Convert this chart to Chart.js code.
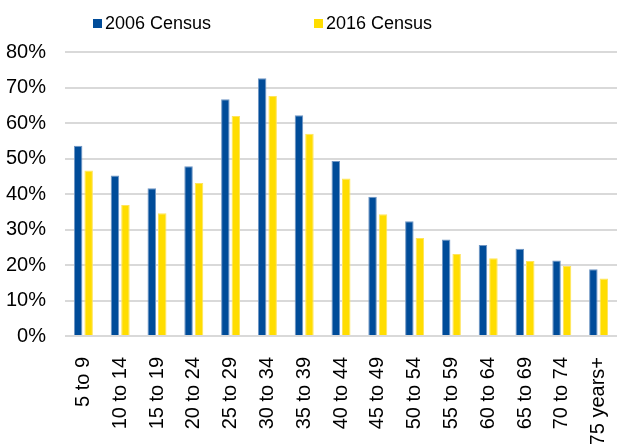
<!DOCTYPE html>
<html lang="en">
<head>
    <meta charset="UTF-8" />
    <title>Census by age group</title>
    <script src="https://cdn.jsdelivr.net/npm/chart.js"></script>
    <style>
        html, body { margin: 0; padding: 0; background: #fff; }
        .wrap { position: relative; width: 617px; height: 444px; overflow: hidden; }
        .legend { position: absolute; top: 13px; font: 18px "Liberation Sans", Arial, sans-serif; color: #000; display: flex; align-items: center; }
        .legend i { display: inline-block; width: 9px; height: 9px; margin-right: 3px; }
    </style>
</head>
<body>
<div class="wrap">
    <canvas id="chart" width="617" height="444"></canvas>
    <div class="legend" style="left: 93px;"><i style="background:#004C99"></i>2006 Census</div>
    <div class="legend" style="left: 314px;"><i style="background:#FFDD00"></i>2016 Census</div>
</div>

<script>
    // age groups
    const ageGroups = ['5 to 9', '10 to 14', '15 to 19', '20 to 24', '25 to 29', '30 to 34', '35 to 39',
        '40 to 44', '45 to 49', '50 to 54', '55 to 59', '60 to 64', '65 to 69', '70 to 74', '75 years+'];

    // percent values
    const census2006 = [53.6, 45.2, 41.6, 47.8, 66.7, 72.6, 62.2, 49.3, 39.2, 32.3, 27.2, 25.6, 24.6, 21.3, 18.8];
    const census2016 = [46.6, 36.9, 34.6, 43.1, 62.0, 67.6, 57.0, 44.4, 34.3, 27.6, 23.1, 21.9, 21.1, 19.7, 16.2];

    const yTicks = [0, 10, 20, 30, 40, 50, 60, 70, 80];

    const font = { family: '"Liberation Sans", Arial, sans-serif', size: 20 };

    new Chart(document.getElementById('chart'), {
        type: 'bar',
        data: {
            labels: ageGroups,
            datasets: [
                { label: '2006 Census', data: census2006, backgroundColor: '#004C99', borderColor: '#6f96c4', borderWidth: 1 },
                { label: '2016 Census', data: census2016, backgroundColor: '#FFDD00', borderColor: '#ffe45a', borderWidth: 1 }
            ]
        },
        options: {
            responsive: false,
            animation: false,
            layout: { padding: { top: 52, left: 4, right: 0, bottom: 0 } },
            datasets: { bar: { categoryPercentage: 0.57, barPercentage: 0.81 } },
            plugins: { legend: { display: false }, tooltip: { enabled: false } },
            scales: {
                x: {
                    grid: { display: false, drawTicks: false },
                    border: { display: false },
                    ticks: { font, color: '#000', maxRotation: 90, minRotation: 90, padding: 21, autoSkip: false },
                    afterFit: (s) => { s.height = 108; s.paddingLeft = 0; s.paddingRight = 0; }
                },
                y: {
                    min: 0,
                    max: 80,
                    afterBuildTicks: (axis) => { axis.ticks = yTicks.map(v => ({ value: v })); },
                    grid: { color: '#d9d9d9', lineWidth: 2, drawTicks: false },
                    border: { display: false },
                    ticks: { font, color: '#000', padding: 19, callback: v => v + '%' },
                    afterFit: (s) => { s.width = 61; }
                }
            }
        }
    });
</script>
</body>
</html>
